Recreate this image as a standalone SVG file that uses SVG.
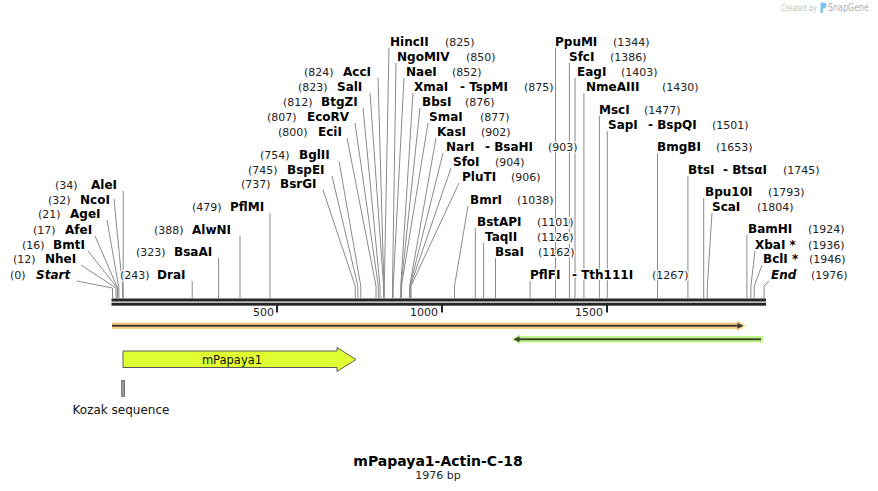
<svg xmlns="http://www.w3.org/2000/svg" width="878" height="491" viewBox="0 0 878 491">
<style>
text{font-family:"DejaVu Sans",Verdana,sans-serif;fill:#000}
.n{font-size:12px;font-weight:bold}
.i{font-style:italic}
.p{font-size:11px;fill:#222}
.h text{paint-order:stroke;stroke:#fff;stroke-width:2.5px;stroke-linejoin:round}
.ld{fill:none;stroke:#8a8a8a;stroke-width:1}
.bb{fill:#262626}
.tk{fill:#262626}
.ft{font-size:12px;fill:#111}
</style>
<rect width="878" height="491" fill="#fff"/>
<g id="watermark">
<text x="781" y="10.5" textLength="36" lengthAdjust="spacingAndGlyphs" style="font-size:8.5px;fill:#c0c0c0">Created by</text>
<path d="M820.5 2.5 h3 a3 3 0 0 1 0 6 h-0.5 v4.5 h-2.5 z" fill="#7ec3ef"/>
<text x="828" y="11" textLength="41" lengthAdjust="spacingAndGlyphs" style="font-size:10px;fill:#b0b0b0">SnapGene</text>
</g>
<g id="connectors">
<polyline class="ld" points="123.2,191 123.2,298"/>
<polyline class="ld" points="114,199 122.6,288 122.6,298"/>
<polyline class="ld" points="107,220 118.9,288 118.9,298"/>
<polyline class="ld" points="95,236 117.6,288 117.6,298"/>
<polyline class="ld" points="88,251 117.3,288 117.3,298"/>
<polyline class="ld" points="81,265 116,288 116,298"/>
<polyline class="ld" points="77,281 112.5,288 112.5,298"/>
<polyline class="ld" points="192.2,281 192.2,298"/>
<polyline class="ld" points="218.6,258 218.6,298"/>
<polyline class="ld" points="240,236 240,298"/>
<polyline class="ld" points="270,213 270,298"/>
<polyline class="ld" points="323,190 355.2,286 355.2,298"/>
<polyline class="ld" points="332,176 357.9,286 357.9,298"/>
<polyline class="ld" points="339,161 360.8,286 360.8,298"/>
<polyline class="ld" points="347,138 376,286 376,298"/>
<polyline class="ld" points="355,123 378.3,286 378.3,298"/>
<polyline class="ld" points="363,108 380,286 380,298"/>
<polyline class="ld" points="370,93 383.6,286 383.6,298"/>
<polyline class="ld" points="378,78 383.9,286 383.9,298"/>
<polyline class="ld" points="389,48 384.3,286 384.3,298"/>
<polyline class="ld" points="396,63 392.5,286 392.5,298"/>
<polyline class="ld" points="404,78 393.2,286 393.2,298"/>
<polyline class="ld" points="413,93 400.8,286 400.8,298"/>
<polyline class="ld" points="420,108 401.1,286 401.1,298"/>
<polyline class="ld" points="428,123 401.4,286 401.4,298"/>
<polyline class="ld" points="436,138 409.7,286 409.7,298"/>
<polyline class="ld" points="443,153 410,286 410,298"/>
<polyline class="ld" points="451,168 410.3,286 410.3,298"/>
<polyline class="ld" points="459,183 411,286 411,298"/>
<polyline class="ld" points="468,206 454.5,286 454.5,298"/>
<polyline class="ld" points="475.3,228 475.3,298"/>
<polyline class="ld" points="483.6,243 483.6,298"/>
<polyline class="ld" points="495.5,258 495.5,298"/>
<polyline class="ld" points="530.1,281 530.1,298"/>
<polyline class="ld" points="555.5,48 555.5,298"/>
<polyline class="ld" points="569.4,63 569.4,298"/>
<polyline class="ld" points="575,78 575,298"/>
<polyline class="ld" points="583.9,93 583.9,298"/>
<polyline class="ld" points="599.4,116 599.4,298"/>
<polyline class="ld" points="607.3,131 607.3,298"/>
<polyline class="ld" points="657.5,153 657.5,298"/>
<polyline class="ld" points="687.9,176 687.9,298"/>
<polyline class="ld" points="703.7,198 703.7,298"/>
<polyline class="ld" points="712,213 707.3,286 707.3,298"/>
<polyline class="ld" points="746.9,235 746.9,298"/>
<polyline class="ld" points="755,251 750.9,286 750.9,298"/>
<polyline class="ld" points="762,265 754.2,286 754.2,298"/>
<polyline class="ld" points="769,281 764.1,286 764.1,298"/>
</g>
<g id="backbone">
<rect class="bb" x="111.5" y="298.5" width="654.5" height="3"/>
<rect class="bb" x="111.5" y="302.7" width="654.5" height="3"/>
<rect class="tk" x="276" y="305" width="2" height="7.5"/>
<rect class="tk" x="441" y="305" width="2" height="7.5"/>
<rect class="tk" x="606" y="305" width="2" height="7.5"/>
<text class="p" x="274" y="316" text-anchor="end">500</text>
<text class="p" x="438" y="316" text-anchor="end">1000</text>
<text class="p" x="603" y="316" text-anchor="end">1500</text>
</g>
<g id="primer-fwd">
<rect x="112" y="322.5" width="627" height="6.5" fill="#fdcf80"/>
<polygon points="737,320.5 746,325.8 737,331" fill="#fdcf80"/>
<line x1="112" y1="325.8" x2="739" y2="325.8" stroke="#3c3c3c" stroke-width="2"/>
<polygon points="737.5,322.8 743.5,325.8 737.5,328.8" fill="#3c3c3c"/>
</g>
<g id="primer-rev">
<rect x="519" y="336" width="244" height="6.5" fill="#c4f58c"/>
<polygon points="520,334 511.5,339.2 520,344.5" fill="#c4f58c"/>
<line x1="517" y1="339.2" x2="761" y2="339.2" stroke="#3c4a30" stroke-width="2"/>
<polygon points="519.5,336.2 513.5,339.2 519.5,342.2" fill="#3c4a30"/>
</g>
<g id="mPapaya1">
<polygon points="123,351 337,351 337,347.5 356,359.5 337,371.5 337,367.5 123,367.5" fill="#e0ff33" stroke="#5a5a5a" stroke-width="1"/>
<text class="ft" x="232" y="363.5" text-anchor="middle" style="font-size:11.5px">mPapaya1</text>
</g>
<g id="kozak">
<rect x="121.7" y="380.5" width="2.8" height="16" fill="#a0a0a0" stroke="#555" stroke-width="0.8"/>
<text class="ft" x="121" y="414" text-anchor="middle">Kozak sequence</text>
</g>
<g id="title">
<text x="438" y="466" text-anchor="middle" style="font-size:14px;font-weight:bold">mPapaya1-Actin-C-18</text>
<text x="438" y="479" text-anchor="middle" style="font-size:11px;fill:#222">1976 bp</text>
</g>
<g class="h">
<g id="AleI"><text class="p" x="55" y="189">(34)</text><text class="n" x="91" y="189">AleI</text></g>
<g id="NcoI"><text class="p" x="48" y="204">(32)</text><text class="n" x="80" y="204">NcoI</text></g>
<g id="AgeI"><text class="p" x="38" y="218">(21)</text><text class="n" x="70" y="218">AgeI</text></g>
<g id="AfeI"><text class="p" x="33" y="234">(17)</text><text class="n" x="65" y="234">AfeI</text></g>
<g id="BmtI"><text class="p" x="22" y="249">(16)</text><text class="n" x="53" y="249">BmtI</text></g>
<g id="NheI"><text class="p" x="13" y="263">(12)</text><text class="n" x="45" y="263">NheI</text></g>
<g id="Start"><text class="p" x="10" y="279">(0)</text><text class="n i" x="36" y="279">Start</text></g>
<g id="DraI"><text class="p" x="120" y="279">(243)</text><text class="n" x="157" y="279">DraI</text></g>
<g id="BsaAI"><text class="p" x="136" y="256">(323)</text><text class="n" x="174" y="256">BsaAI</text></g>
<g id="AlwNI"><text class="p" x="154" y="234">(388)</text><text class="n" x="192" y="234">AlwNI</text></g>
<g id="PflMI"><text class="p" x="192" y="211">(479)</text><text class="n" x="230" y="211">PflMI</text></g>
<g id="BsrGI"><text class="p" x="241" y="188">(737)</text><text class="n" x="280" y="188">BsrGI</text></g>
<g id="BspEI"><text class="p" x="248" y="174">(745)</text><text class="n" x="287" y="174">BspEI</text></g>
<g id="BglII"><text class="p" x="260" y="159">(754)</text><text class="n" x="299" y="159">BglII</text></g>
<g id="EciI"><text class="p" x="278" y="136">(800)</text><text class="n" x="318" y="136">EciI</text></g>
<g id="EcoRV"><text class="p" x="267" y="121">(807)</text><text class="n" x="307" y="121">EcoRV</text></g>
<g id="BtgZI"><text class="p" x="283" y="106">(812)</text><text class="n" x="321" y="106">BtgZI</text></g>
<g id="SalI"><text class="p" x="298" y="91">(823)</text><text class="n" x="337" y="91">SalI</text></g>
<g id="AccI"><text class="p" x="304" y="76">(824)</text><text class="n" x="343" y="76">AccI</text></g>
<g id="HincII"><text class="n" x="390" y="46">HincII</text><text class="p" x="445" y="46">(825)</text></g>
<g id="NgoMIV"><text class="n" x="397" y="61">NgoMIV</text><text class="p" x="466" y="61">(850)</text></g>
<g id="NaeI"><text class="n" x="406" y="76">NaeI</text><text class="p" x="452" y="76">(852)</text></g>
<g id="XmaI"><text class="n" x="414" y="91">XmaI</text><text class="n" x="460" y="91">- TspMI</text><text class="p" x="524" y="91">(875)</text></g>
<g id="BbsI"><text class="n" x="422" y="106">BbsI</text><text class="p" x="465" y="106">(876)</text></g>
<g id="SmaI"><text class="n" x="429" y="121">SmaI</text><text class="p" x="480" y="121">(877)</text></g>
<g id="KasI"><text class="n" x="437" y="136">KasI</text><text class="p" x="481" y="136">(902)</text></g>
<g id="NarI"><text class="n" x="446" y="151">NarI</text><text class="n" x="485" y="151">- BsaHI</text><text class="p" x="548" y="151">(903)</text></g>
<g id="SfoI"><text class="n" x="453" y="166">SfoI</text><text class="p" x="495" y="166">(904)</text></g>
<g id="PluTI"><text class="n" x="462" y="181">PluTI</text><text class="p" x="511" y="181">(906)</text></g>
<g id="BmrI"><text class="n" x="470" y="204">BmrI</text><text class="p" x="517" y="204">(1038)</text></g>
<g id="BstAPI"><text class="n" x="477" y="226">BstAPI</text><text class="p" x="537" y="226">(1101)</text></g>
<g id="TaqII"><text class="n" x="485" y="241">TaqII</text><text class="p" x="537" y="241">(1126)</text></g>
<g id="BsaI"><text class="n" x="495" y="256">BsaI</text><text class="p" x="538" y="256">(1162)</text></g>
<g id="PflFI"><text class="n" x="530" y="279">PflFI</text><text class="n" x="572" y="279">- Tth111I</text><text class="p" x="652" y="279">(1267)</text></g>
<g id="PpuMI"><text class="n" x="555" y="46">PpuMI</text><text class="p" x="613" y="46">(1344)</text></g>
<g id="SfcI"><text class="n" x="569" y="61">SfcI</text><text class="p" x="610" y="61">(1386)</text></g>
<g id="EagI"><text class="n" x="577" y="76">EagI</text><text class="p" x="621" y="76">(1403)</text></g>
<g id="NmeAIII"><text class="n" x="586" y="91">NmeAIII</text><text class="p" x="662" y="91">(1430)</text></g>
<g id="MscI"><text class="n" x="599" y="114">MscI</text><text class="p" x="644" y="114">(1477)</text></g>
<g id="SapI"><text class="n" x="608" y="129">SapI</text><text class="n" x="648" y="129">- BspQI</text><text class="p" x="712" y="129">(1501)</text></g>
<g id="BmgBI"><text class="n" x="657" y="151">BmgBI</text><text class="p" x="716" y="151">(1653)</text></g>
<g id="BtsI"><text class="n" x="688" y="174">BtsI</text><text class="n" x="723" y="174">- BtsαI</text><text class="p" x="783" y="174">(1745)</text></g>
<g id="Bpu10I"><text class="n" x="705" y="196">Bpu10I</text><text class="p" x="768" y="196">(1793)</text></g>
<g id="ScaI"><text class="n" x="712" y="211">ScaI</text><text class="p" x="757" y="211">(1804)</text></g>
<g id="BamHI"><text class="n" x="748" y="233">BamHI</text><text class="p" x="808" y="233">(1924)</text></g>
<g id="XbaI"><text class="n" x="755" y="249">XbaI *</text><text class="p" x="808" y="249">(1936)</text></g>
<g id="BclI"><text class="n" x="763" y="263">BclI *</text><text class="p" x="809" y="263">(1946)</text></g>
<g id="End"><text class="n i" x="771" y="279">End</text><text class="p" x="811" y="279">(1976)</text></g>
</g>
</svg>
